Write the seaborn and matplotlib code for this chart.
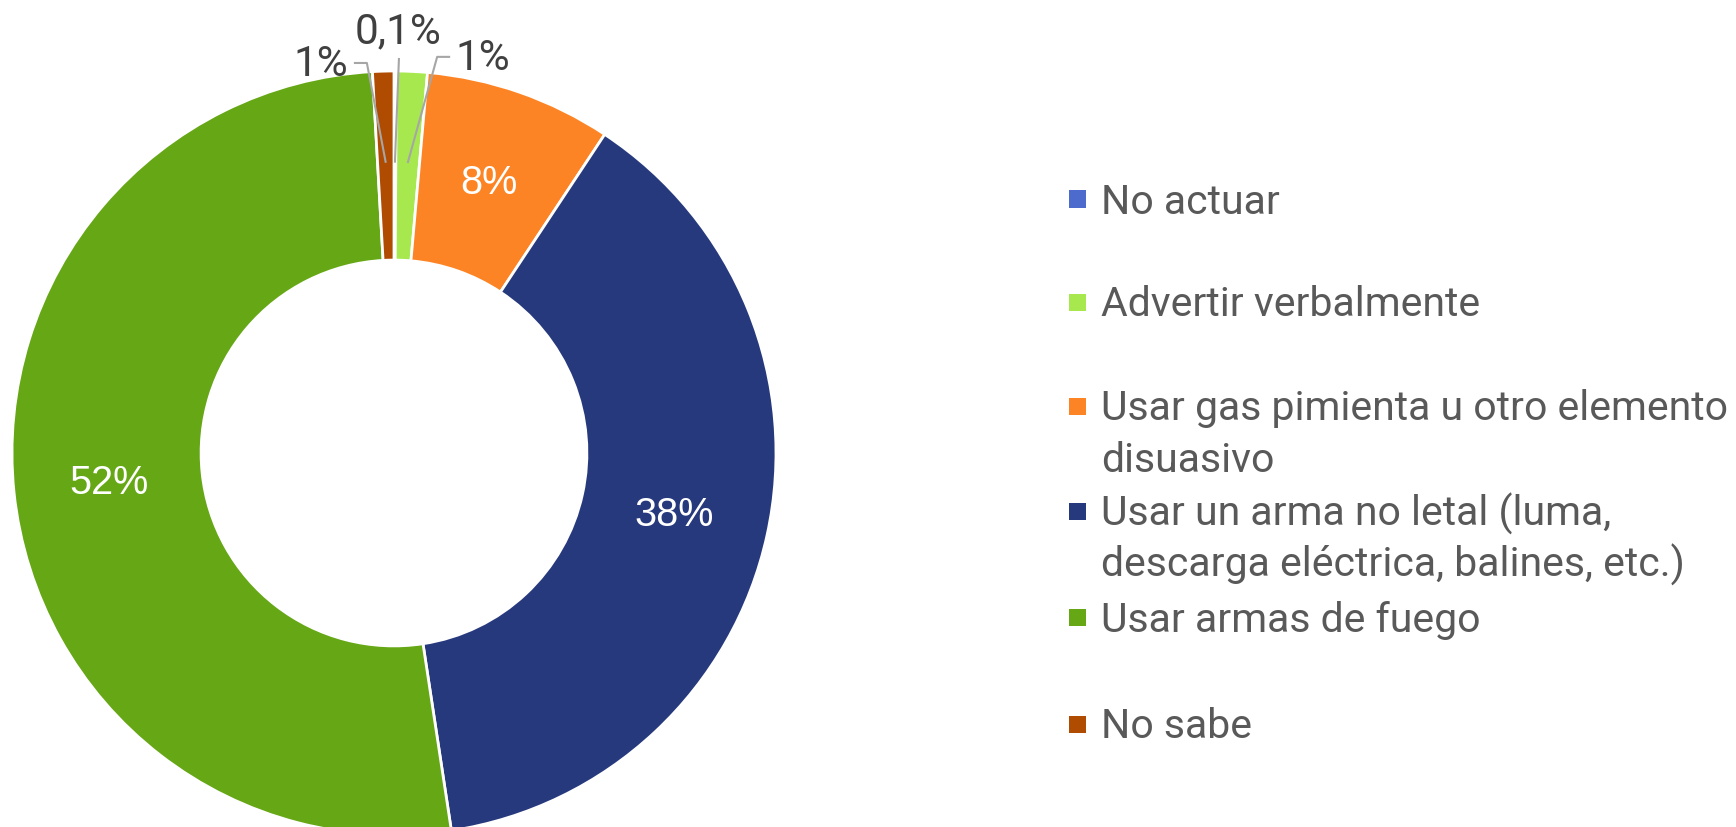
import matplotlib
matplotlib.use("Agg")
import matplotlib.pyplot as plt
import seaborn as sns
import numpy as np
from matplotlib.patches import Rectangle

categories = ["No actuar", "Advertir verbalmente",
              "Usar gas pimienta u otro elemento\ndisuasivo",
              "Usar un arma no letal (luma,\ndescarga eléctrica, balines, etc.)",
              "Usar armas de fuego", "No sabe"]
values = [0.1, 1.3, 7.9, 38.3, 51.5, 0.9]
value_labels = ["0,1%", "1%", "8%", "38%", "52%", "1%"]
colors = ["#4D6BCD", "#A8E84F", "#FD8424", "#27397D", "#66A716", "#B04B02"]

sns.set_theme(style="white")
plt.rcParams['font.family'] = ['Roboto', 'DejaVu Sans']

W, H = 1736, 827
fig = plt.figure(figsize=(W / 100, H / 100), dpi=100)
cx, cy, R = 394, 453, 382
ax = fig.add_axes([(cx - R) / W, (H - (cy + R)) / H, 2 * R / W, 2 * R / H])
ax.set_facecolor("white")

wedges, _ = ax.pie(values, colors=colors, startangle=90, counterclock=False,
                   radius=1.0, wedgeprops=dict(width=0.495, edgecolor="white", linewidth=2.0))
ax.set_xlim(-1, 1)
ax.set_ylim(-1, 1)
ax.set_aspect("equal")
ax.axis("off")

def mid(w, r):
    a = np.deg2rad((w.theta1 + w.theta2) / 2)
    return r * np.cos(a), r * np.sin(a)

# inside labels
for i in (2, 3, 4):
    x, y = mid(wedges[i], 0.75)
    ax.text(x, y, value_labels[i], ha="center", va="center", color="white",
            fontsize=28.5, family=["Liberation Sans", "DejaVu Sans"])

line_kw = dict(color="#A6A6A6", lw=1.5, solid_capstyle="butt", clip_on=False)
txt_kw = dict(color="#404040", fontsize=30.5, clip_on=False)

# 0,1% label
x0, y0 = mid(wedges[0], 0.76)
ax.plot([0.013, x0], [1.034, y0], **line_kw)
ax.text(0.010, 1.102, value_labels[0], ha="center", va="center", **txt_kw)

# right 1% (Advertir)
x1, y1 = mid(wedges[1], 0.76)
ax.plot([0.147, 0.113, x1], [1.037, 1.037, y1], **line_kw)
ax.text(0.160, 1.034, value_labels[1], ha="left", va="center", **txt_kw)

# left 1% (No sabe)
x5, y5 = mid(wedges[5], 0.76)
ax.plot([-0.105, -0.071, x5], [1.021, 1.021, y5], **line_kw)
ax.text(-0.120, 1.016, value_labels[5], ha="right", va="center", **txt_kw)

# legend (manual, to mimic irregular spacing)
leg_y = [199, 302, 406, 511, 617, 724]
line_gap = 51
sq = 17
for c, lab, yy in zip(colors, categories, leg_y):
    fig.patches.append(Rectangle((1069 / W, (H - yy - sq / 2) / H), sq / W, sq / H,
                                 transform=fig.transFigure, facecolor=c, edgecolor="none"))
    for k, line in enumerate(lab.split("\n")):
        fig.text(1101 / W, (H - yy - 3 - k * line_gap) / H, line, ha="left", va="center",
                 color="#595959", fontsize=29.5, transform=fig.transFigure)

fig.savefig("out.png", dpi=100, facecolor="white")
